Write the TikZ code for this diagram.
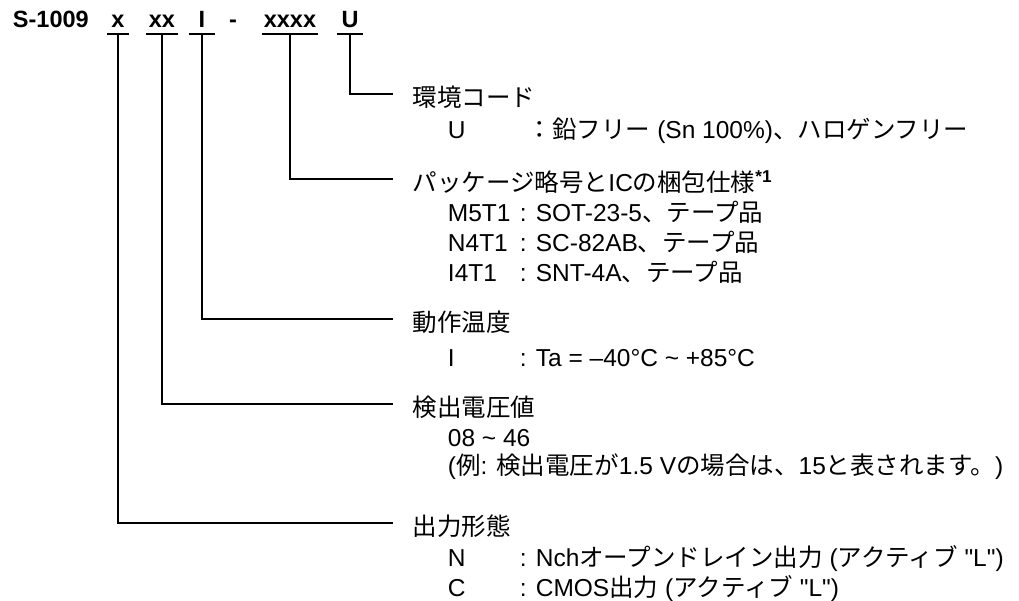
\documentclass[tikz,border=0pt]{standalone}
\usepackage{fontspec}
\setmainfont{Liberation Sans}
\newfontfamily\jpfont{Noto Sans CJK JP}
\newcommand{\ja}[1]{{\jpfont #1}}
\newcommand{\txtsize}{\fontsize{24.5}{29}\selectfont}
\usetikzlibrary{positioning}
\tikzstyle{legend}=[x=1pt, y=-1pt, line width=1.9pt]
\tikzstyle{part}=[anchor=base, font=\fontsize{23.5}{28}\selectfont\bfseries, inner xsep=0pt, inner ysep=5pt, text depth=0pt]
\tikzstyle{head}=[anchor=west, font=\txtsize, inner xsep=19pt, inner ysep=0pt, text height=25.5pt, text depth=1pt]
\tikzstyle{item}=[anchor=base west, font=\txtsize, inner sep=0pt]

\begin{document}
\begin{tikzpicture}[legend]
  \useasboundingbox (0,0) rectangle (1019,601);
  % product code
  \node[part, anchor=base west] (model) at (12,28) {S-1009};
  \node[part, minimum width=20pt] (pout) at (118,28) {x};
  \node[part, minimum width=30pt] (pvolt) at (162,28) {xx};
  \node[part, minimum width=25pt] (ptemp) at (202,28) {I};
  \node[part] (sep) at (233,28) {-};
  \node[part, minimum width=55pt] (ppkg) at (290,28) {xxxx};
  \node[part, minimum width=25pt] (penv) at (350,28) {U};
  \draw (pout.south west) -- (pout.south east);
  \draw (pvolt.south west) -- (pvolt.south east);
  \draw (ptemp.south west) -- (ptemp.south east);
  \draw (ppkg.south west) -- (ppkg.south east);
  \draw (penv.south west) -- (penv.south east);

  % headings
  \node[head] (env) at (393,94) {\ja{環境コード}};
  \node[head] (pkg) at (393,179) {\ja{パッケージ略号と}IC\ja{の梱包仕様}\textsuperscript{\bfseries *1}};
  \node[head] (temp) at (393,319) {\ja{動作温度}};
  \node[head] (volt) at (393,404) {\ja{検出電圧値}};
  \node[head] (out) at (393,523) {\ja{出力形態}};

  \draw (penv.south) |- (env.west);
  \draw (ppkg.south) |- (pkg.west);
  \draw (ptemp.south) |- (temp.west);
  \draw (pvolt.south) |- (volt.west);
  \draw (pout.south) |- (out.west);

  % entries
  \node[item] (envU) at (447,139) {U};
  \node[item] (envUtxt) at (527,139) {\ja{：鉛フリー} (Sn 100\%)\ja{、ハロゲンフリー}};
  \node[item] (pkgM) at (447,222) {M5T1};
  \node[item] (pkgMtxt) at (519,222) {: SOT-23-5\ja{、テープ品}};
  \node[item] (pkgN) at (447,252) {N4T1};
  \node[item] (pkgNtxt) at (519,252) {: SC-82AB\ja{、テープ品}};
  \node[item] (pkgI) at (447,282) {I4T1};
  \node[item] (pkgItxt) at (519,282) {: SNT-4A\ja{、テープ品}};
  \node[item] (tempI) at (447,366) {I};
  \node[item] (tempItxt) at (519,366) {: Ta = –40°C \textasciitilde{} +85°C};
  \node[item] (voltR) at (447,446) {08 \textasciitilde{} 46};
  \node[item] (voltEx) at (447,474) {(\ja{例}: \ja{検出電圧が}1.5 V\ja{の場合は、}15\ja{と表されます。})};
  \node[item] (outN) at (447,566) {N};
  \node[item] (outNtxt) at (519,566) {: Nch\ja{オープンドレイン出力} (\ja{アクティブ} \textquotedbl L\textquotedbl)};
  \node[item] (outC) at (447,596) {C};
  \node[item] (outCtxt) at (519,596) {: CMOS\ja{出力} (\ja{アクティブ} \textquotedbl L\textquotedbl)};
\end{tikzpicture}
\end{document}
